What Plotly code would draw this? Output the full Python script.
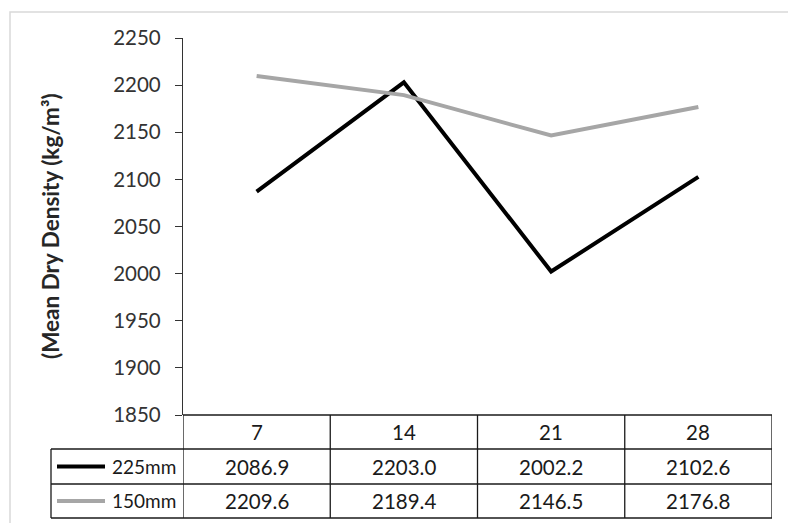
import plotly.graph_objects as go

categories = ["7", "14", "21", "28"]
series_names = ["225mm", "150mm"]
s225 = [2086.9, 2203.0, 2002.2, 2102.6]
s150 = [2209.6, 2189.4, 2146.5, 2176.8]
series_values = [s225, s150]
series_colors = ["#000000", "#A6A6A6"]
y_ticks = [1850, 1900, 1950, 2000, 2050, 2100, 2150, 2200, 2250]

W, H = 788, 523
L, R, T, B = 183, 772, 38, 415
PW, PH = R - L, B - T

def px(x):
    return (x - L) / PW

def py(y):
    return (B - y) / PH

FONT = "Lato"
fig = go.Figure()
xs = list(range(len(categories)))
for name, vals, col in zip(series_names, series_values, series_colors):
    fig.add_trace(go.Scatter(x=xs, y=vals, mode="lines", name=name,
                             line=dict(color=col, width=4), showlegend=False))

shapes = []
line_style = dict(color="#1a1a1a", width=1.3)
# outer chart border
shapes.append(dict(type="rect", xref="paper", yref="paper", x0=px(10), x1=px(800),
                   y0=py(540), y1=py(12), line=dict(color="#d9d9d9", width=1.5)))
# table horizontals
shapes.append(dict(type="line", xref="paper", yref="paper", x0=0, x1=1, y0=0, y1=0, line=line_style))
for yy in [449, 484, 518]:
    shapes.append(dict(type="line", xref="paper", yref="paper", x0=px(51), x1=1,
                       y0=py(yy), y1=py(yy), line=line_style))
# table verticals
shapes.append(dict(type="line", xref="paper", yref="paper", x0=px(51), x1=px(51),
                   y0=py(449), y1=py(518), line=line_style))
for i in range(len(categories) + 1):
    xv = -0.5 + i
    shapes.append(dict(type="line", xref="x", yref="paper", x0=xv, x1=xv,
                       y0=0, y1=py(518), line=line_style))

annotations = []
tfont = dict(family=FONT, size=20.5, color="#1a1a1a")
lfont = dict(family=FONT, size=19, color="#1a1a1a")
for i, c in enumerate(categories):
    annotations.append(dict(x=i, y=py(432), xref="x", yref="paper", text=c,
                            showarrow=False, font=tfont, xanchor="center", yanchor="middle"))
row_y = [466.5, 501]
for r, (name, vals, col) in enumerate(zip(series_names, series_values, series_colors)):
    for i, v in enumerate(vals):
        annotations.append(dict(x=i, y=py(row_y[r]), xref="x", yref="paper", text=f"{v:.1f}",
                                showarrow=False, font=tfont, xanchor="center", yanchor="middle"))
    shapes.append(dict(type="line", xref="paper", yref="paper", x0=px(57), x1=px(105),
                       y0=py(row_y[r]), y1=py(row_y[r]), line=dict(color=col, width=4)))
    annotations.append(dict(x=px(110), y=py(row_y[r]), xref="paper", yref="paper", text=name,
                            showarrow=False, font=lfont, xanchor="left", yanchor="middle"))
# y-axis title
annotations.append(dict(x=px(50), y=py(226), xref="paper", yref="paper",
                        text="<b>(Mean Dry Density (kg/m³)</b>", textangle=-90, showarrow=False,
                        font=dict(family=FONT, size=22.5, color="#262626"),
                        xanchor="center", yanchor="middle"))

fig.update_layout(
    width=W, height=H,
    margin=dict(l=L, r=W - R, t=T, b=H - B, pad=0),
    paper_bgcolor="white", plot_bgcolor="white",
    xaxis=dict(range=[-0.5, len(categories) - 0.5], showticklabels=False, showgrid=False,
               zeroline=False, showline=False, ticks=""),
    yaxis=dict(range=[y_ticks[0], y_ticks[-1]], tickvals=y_ticks, showgrid=False, zeroline=False,
               showline=True, linecolor="#333333", linewidth=1.3, ticks="outside", ticklen=7,
               ticklabelstandoff=10,
               tickcolor="#333333", tickfont=dict(family=FONT, size=20.5, color="#333333")),
    shapes=shapes, annotations=annotations,
)
fig.write_html("out.html")
